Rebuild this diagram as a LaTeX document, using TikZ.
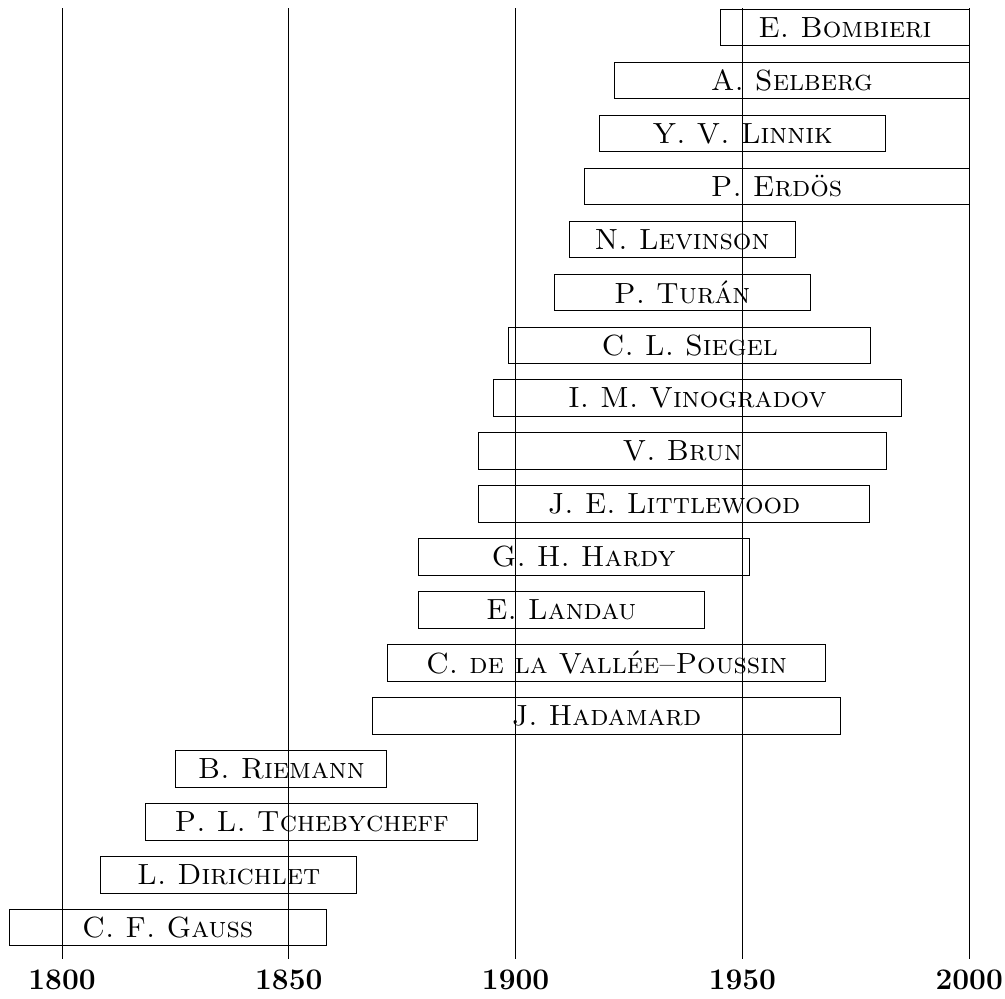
\documentclass[tikz,border=0pt]{standalone}
\usepackage{tikz}

\tikzset{
  lifebox/.style={draw, line width=0.5pt, inner sep=0pt, minimum height=0.73cm,
    font=\fontsize{16.6}{20}\selectfont\scshape},
  yearlabel/.style={anchor=base, inner sep=0pt, font=\fontsize{17}{20}\selectfont\bfseries}
}

\begin{document}
\begin{tikzpicture}[x=0.9072mm, y=1.059cm]
                    \useasboundingbox (-13.67,-1.347) rectangle (207.9,17.52);

                    % century grid
                    \foreach \yr in {0,50,...,200} {
                        \draw[line width=0.5pt] (\yr,-0.591) -- (\yr,17.37);
                        \node[yearlabel] (y\yr) at (\yr,-1.177) {\the\numexpr1800+\yr\relax};
                    }

                    % one box per mathematician: row/from/to/name
                    \foreach \r/\a/\b/\n in {
                        17/145.2/200.0/E. Bombieri,
                        16/121.8/200.0/A. Selberg,
                        15/118.5/181.6/Y. V. Linnik,
                        14/115.1/200.0/P. Erd\"os,
                        13/111.8/161.6/N. Levinson,
                        12/108.5/165.0/P. Tur\'an,
                        11/98.5/178.3/C. L. Siegel,
                        10/95.1/185.0/I. M. Vinogradov,
                        9/91.8/181.7/V. Brun,
                        8/91.8/178.1/J. E. Littlewood,
                        7/78.5/151.5/G. H. Hardy,
                        6/78.5/141.6/E. Landau,
                        5/71.7/168.4/C. de la Vall\'ee--Poussin,
                        4/68.5/171.6/J. Hadamard,
                        3/25.1/71.6/B. Riemann,
                        2/18.5/91.6/P. L. Tchebycheff,
                        1/8.5/65.0/L. Dirichlet,
                        0/-11.6/58.2/C. F. Gauss} {
                        \node[lifebox, minimum width={(\b-\a)*0.9072mm}] (p\r) at ({(\a+\b)/2},\r) {\n};
                    }
                \end{tikzpicture}
\end{document}
